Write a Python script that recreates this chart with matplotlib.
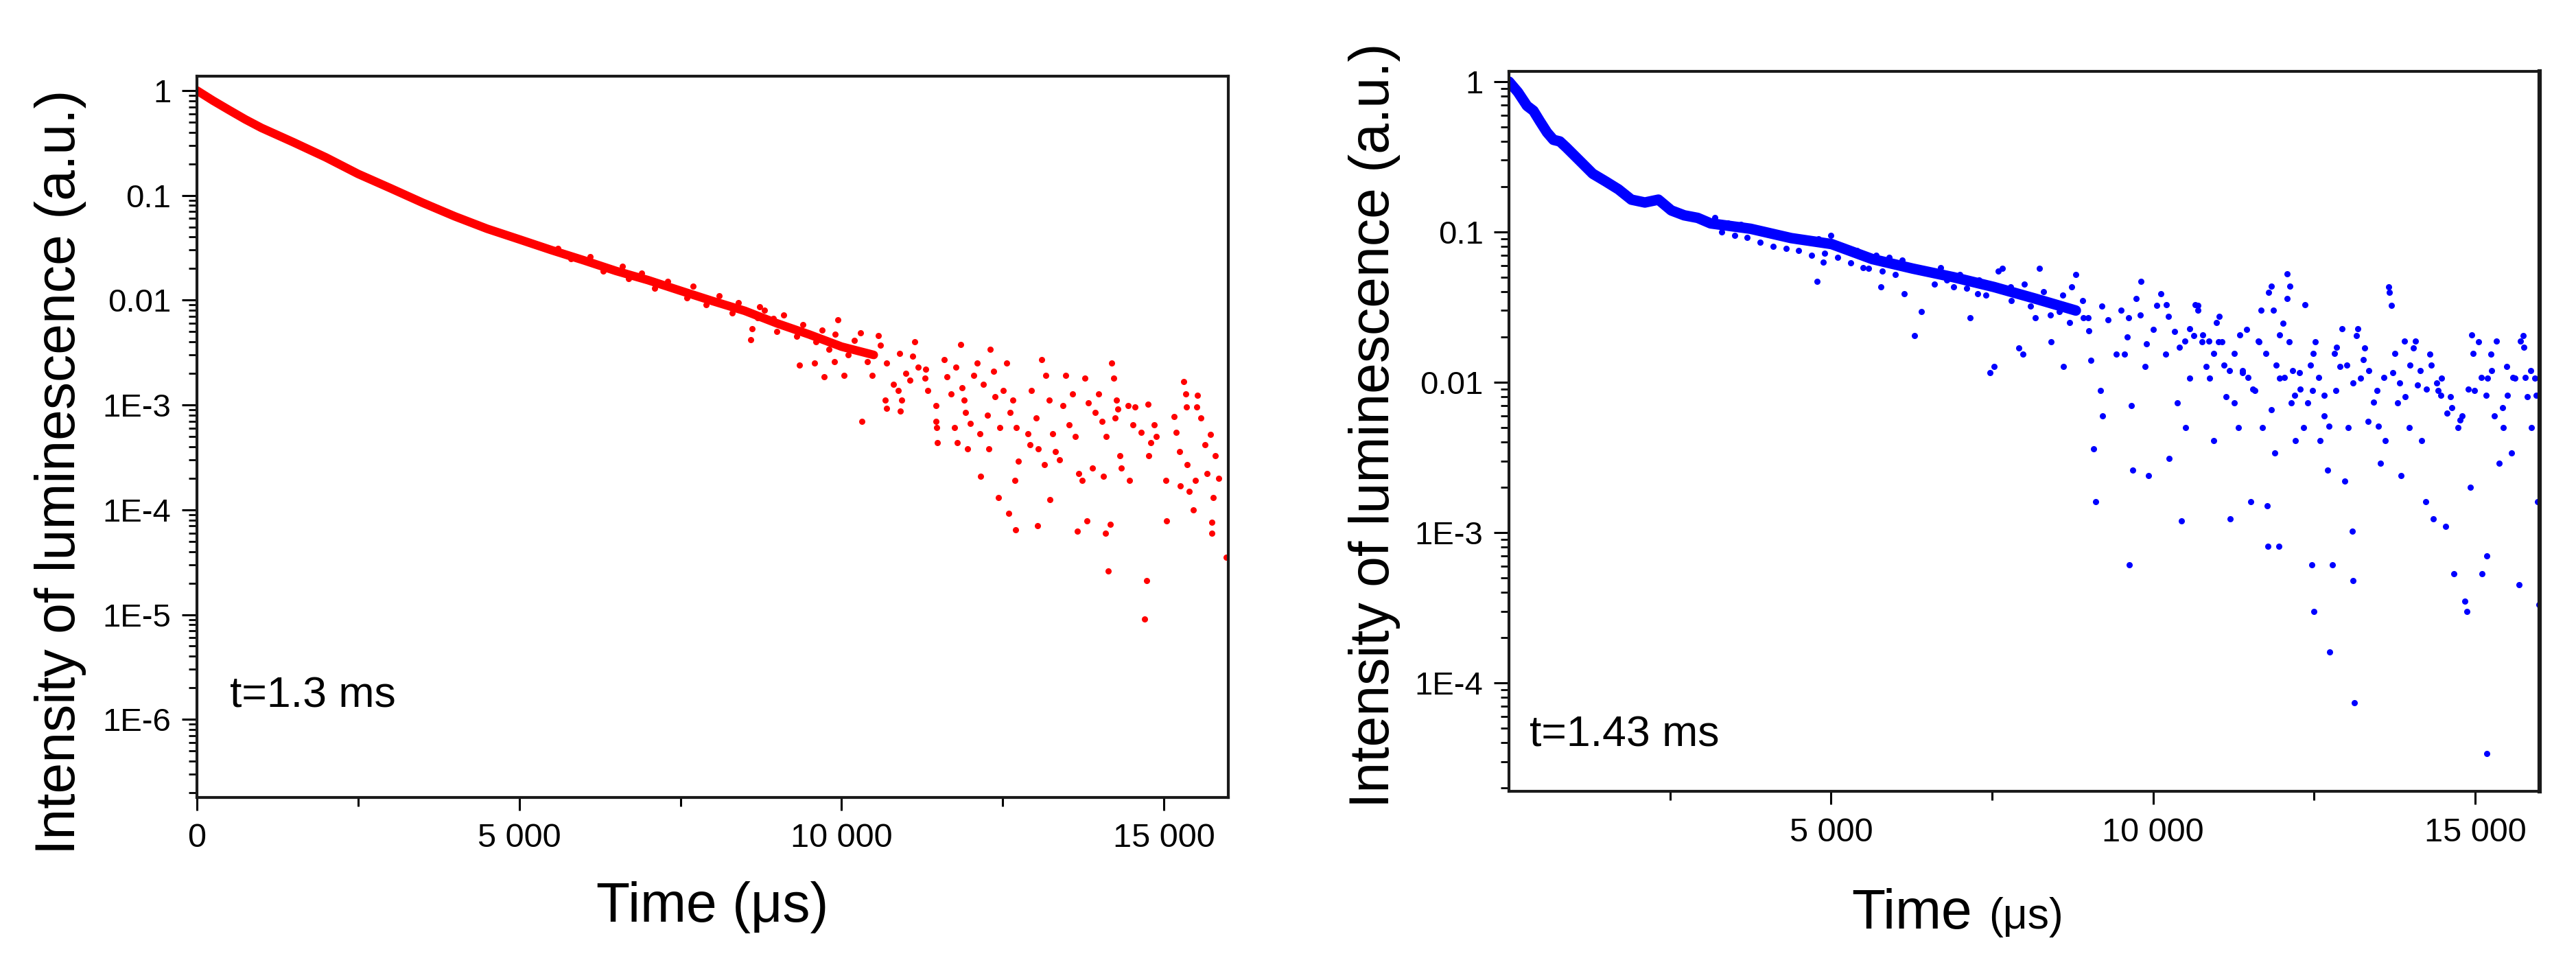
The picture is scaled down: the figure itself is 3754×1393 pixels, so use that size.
import numpy as np
import matplotlib
matplotlib.use("Agg")
import matplotlib.pyplot as plt
from matplotlib.ticker import LogLocator, FuncFormatter, NullFormatter, FixedLocator

plt.rcParams["font.family"] = ["Liberation Sans", "DejaVu Sans"]

# ---- left panel (red), t = 1.3 ms ----
red_band_t = [0, 250, 500, 750, 1000, 1500, 2000, 2500, 3000, 3500, 4000, 4500,
              5000, 5500, 6000, 6500, 7000, 7500, 8000, 8500, 9000, 9500, 10000,
              10500]
red_band_y = [1.0, 0.80, 0.65, 0.53, 0.44, 0.32, 0.23, 0.16, 0.117, 0.085, 0.063,
              0.048, 0.038, 0.030, 0.024, 0.019, 0.0155, 0.0123, 0.0098, 0.0079,
              0.0060, 0.0047, 0.0036, 0.0030]

red_dots_t = [5600, 5800, 6100, 6300, 6600, 6700, 6900, 7100, 7300, 7600, 7700, 7900,
              8100, 8300, 8400, 8700, 8800, 9000, 9100, 9300, 9400, 9600, 9700, 9800,
              9900, 10100, 10200, 10400, 10600, 10700, 10900, 11000, 11100, 11300,
              8590, 8610, 8730, 8940, 9350, 9580, 9730, 9890, 9940, 10040, 10290,
              10320, 10470, 10570, 10680, 10700, 10800, 10880, 10910, 10930, 11060,
              11130, 11190, 11310, 11340, 11460, 11470, 11480, 11490, 11590, 11640,
              11700, 11750, 11770, 11800, 11850, 11870, 11900, 11920, 11950, 12000,
              12050, 12100, 12150, 12160, 12200, 12260, 12280, 12310, 12360, 12380,
              12430, 12460, 12510, 12560, 12590, 12610, 12660, 12690, 12700, 12710,
              12740, 12890, 12920, 12940, 13020, 13040, 13050, 13100, 13150, 13170,
              13220, 13230, 13270, 13320, 13380, 13430, 13480, 13530, 13580, 13630,
              13660, 13680, 13730, 13780, 13810, 13830, 13890, 13940, 13990, 14040,
              14060, 14090, 14110, 14140, 14170, 14190, 14220, 14240, 14270, 14290,
              14320, 14340, 14450, 14470, 14520, 14550, 14650, 14700, 14730, 14750,
              14760, 14800, 14850, 14880, 15030, 15040, 15160, 15190, 15240, 15260,
              15310, 15340, 15350, 15360, 15390, 15460, 15490, 15510, 15520, 15570,
              15640, 15670, 15720, 15740, 15750, 15770, 15800, 15850, 15970]
red_dots_y = [0.031, 0.025, 0.026, 0.019, 0.021, 0.016, 0.018, 0.013, 0.015, 0.0105,
              0.0135, 0.0090, 0.0110, 0.0075, 0.0095, 0.0068, 0.0080, 0.0050, 0.0072,
              0.0045, 0.0058, 0.0040, 0.0052, 0.0034, 0.0047, 0.0030, 0.0041, 0.0026,
              0.0037, 0.0025, 0.0031, 0.0020, 0.0029, 0.0018,
              0.0042, 0.0053, 0.0087, 0.0067, 0.0024, 0.0025, 0.00185, 0.0026, 0.0065,
              0.0019, 0.0049, 0.00070, 0.0019, 0.0046, 0.00112, 0.00093, 0.00157,
              0.00137, 0.00088, 0.00112, 0.00173, 0.0040, 0.0023, 0.0022, 0.00137,
              0.00070, 0.00098, 0.00061, 0.00044, 0.0027, 0.00185, 0.00128, 0.00061,
              0.0023, 0.00044, 0.0038, 0.00147, 0.00112, 0.00085, 0.00038, 0.00067,
              0.0019, 0.0025, 0.00053, 0.00021, 0.00157, 0.00080, 0.00038, 0.0034,
              0.0021, 0.00120, 0.00013, 0.00061, 0.00137, 0.0025, 0.000092, 0.00085,
              0.00112, 0.00019, 0.000064, 0.00061, 0.00029, 0.00053, 0.00042, 0.00137,
              0.00075, 0.000071, 0.00038, 0.0027, 0.00027, 0.0019, 0.00112, 0.000125,
              0.00053, 0.00036, 0.00030, 0.00098, 0.0019, 0.00065, 0.00128, 0.00050,
              0.000062, 0.00022, 0.00019, 0.0018, 0.000078, 0.00105, 0.00025, 0.00085,
              0.00128, 0.00070, 0.00021, 0.000060, 0.00050, 0.000026, 0.000073, 0.0025,
              0.0018, 0.00075, 0.00112, 0.00091, 0.00033, 0.00025, 0.00098, 0.00019,
              0.00065, 0.00095, 0.00055, 0.0000091, 0.000021, 0.00101, 0.00033,
              0.00044, 0.00065, 0.00050, 0.00019, 0.000078, 0.00077, 0.00055, 0.00036,
              0.00017, 0.00168, 0.00128, 0.00095, 0.00027, 0.00015, 0.000099, 0.00019,
              0.00095, 0.00124, 0.00075, 0.00042, 0.00022, 0.00052, 0.000076, 0.000060,
              0.00013, 0.00033, 0.00020, 0.000035]

# ---- right panel (blue), t = 1.43 ms ----
blue_band_t = [0, 140, 280, 380, 480, 590, 690, 790, 890, 1090, 1300, 1500, 1700,
               1900, 2110, 2320, 2520, 2720, 2930, 3130, 3750, 4380, 5010, 5640,
               6270, 6900, 7530, 8170, 8800]
blue_band_y = [1.0, 0.85, 0.69, 0.64, 0.545, 0.46, 0.41, 0.40, 0.365, 0.30, 0.244,
               0.217, 0.192, 0.164, 0.157, 0.164, 0.139, 0.129, 0.124, 0.114, 0.105,
               0.091, 0.083, 0.066, 0.057, 0.050, 0.043, 0.036, 0.030]

blue_dots_t = [3200, 3300, 3400, 3500, 3600, 3700, 3800, 3900, 4000, 4100, 4200, 4300,
               4400, 4500, 4600, 4700, 4800, 4900, 5000, 5100, 5200, 5300, 5400, 5500,
               5700, 5800, 5900, 6000, 6100, 6200, 6500, 6600, 6700, 6800, 7000, 7100,
               7300, 7400, 7600, 7700, 7800, 8000, 8100, 8300, 8400, 8600, 8700, 8900,
               9000, 9200, 9300, 9500, 9600, 9800, 9900,
               4780, 4880, 5580, 5770, 6140, 6300, 6400, 6780, 6900, 7160, 7280, 7470,
               7530, 7660, 7790, 7910, 7980, 8170, 8230, 8420, 8540, 8610, 8730, 8800,
               8920, 8990, 9030, 9080, 9110, 9180, 9210, 9430, 9560, 9620, 9660, 9680,
               9740, 9810, 9870, 9930, 10000, 10060, 10120, 9630, 10190, 10250, 10380,
               10440, 10500, 10570, 10630, 10690, 10760, 10820, 10880, 10940, 11010,
               11070, 11130, 11200, 11260, 11320, 11390, 11450, 11510, 11580, 11640,
               11700, 11770, 11780, 11830, 11890, 11950, 11960, 12020, 12080, 12110,
               12140, 12210, 12270, 12330, 12400, 12460, 12470, 12490, 12520, 12590,
               12650, 12710, 12740, 12780, 12840, 12900, 12970, 13030, 13090, 13100,
               13120, 13160, 13220, 13280, 13340, 13470, 13530, 13600, 13660, 13700,
               13720, 13790, 13850, 13910, 13980, 14040, 14100, 14170, 14230, 14290,
               14350, 14420, 14480, 14540, 14610, 14670, 14730, 14800, 14840, 14870,
               14920, 14990, 15050, 15110, 15180, 15190, 15240, 15300, 15370, 15430,
               15490, 15560, 15620, 15680, 15740, 15810, 15870, 15930, 15970, 15990,
               15180,
               10200, 10240, 10330, 10410, 10490, 10570, 10650, 10700, 10770, 10860,
               10940, 10980, 11020, 11100, 11180, 11260, 11340, 11390, 11470, 11550,
               11630, 11670, 11750, 11790, 11830, 11870, 11910, 11960, 12040, 12080,
               12120, 12160, 12200, 12280, 12360, 12440, 12480, 12570, 12650, 12730,
               12810, 12850, 12930, 13010, 13100, 13180, 13260, 13350, 13420, 13500,
               13580, 13670, 13750, 13830, 13900, 13990, 14070, 14150, 14240, 14320,
               14400, 14470, 14560, 14640, 14760, 14890, 14950, 14970, 15090, 15170,
               15250, 15330, 15420, 15500, 15580, 15700, 15750, 15780, 15860, 15950]
blue_dots_y = [0.125, 0.10, 0.115, 0.095, 0.112, 0.092, 0.105, 0.085, 0.098, 0.080,
               0.095, 0.078, 0.092, 0.075, 0.088, 0.070, 0.090, 0.072, 0.095, 0.068,
               0.080, 0.062, 0.075, 0.058, 0.070, 0.055, 0.068, 0.052, 0.065, 0.060,
               0.055, 0.045, 0.058, 0.048, 0.052, 0.042, 0.048, 0.038, 0.055, 0.042,
               0.035, 0.045, 0.032, 0.040, 0.028, 0.038, 0.025, 0.035, 0.022, 0.032,
               0.026, 0.030, 0.020, 0.028, 0.018,
               0.047, 0.063, 0.057, 0.043, 0.039, 0.0204, 0.0296, 0.052, 0.043, 0.027,
               0.039, 0.0116, 0.0128, 0.057, 0.043, 0.0169, 0.0154, 0.027, 0.057,
               0.0185, 0.0296, 0.0128, 0.043, 0.052, 0.027, 0.027, 0.0140, 0.0036,
               0.0016, 0.0088, 0.0060, 0.0154, 0.0154, 0.027, 0.0070, 0.0026, 0.036,
               0.047, 0.0128, 0.0024, 0.0224, 0.0325, 0.039, 0.00061, 0.0154, 0.0031,
               0.0073, 0.0012, 0.0050, 0.0106, 0.0204, 0.0325, 0.0185, 0.0128, 0.0106,
               0.0041, 0.0185, 0.0185, 0.0080, 0.00123, 0.0073, 0.0050, 0.0116, 0.0224,
               0.0016, 0.0088, 0.0185, 0.0050, 0.0015, 0.00081, 0.0066, 0.0034, 0.00081,
               0.0106, 0.0246, 0.036, 0.0185, 0.0073, 0.0041, 0.0116, 0.0050, 0.0073,
               0.00061, 0.0088, 0.00030, 0.0185, 0.0041, 0.0060, 0.0026, 0.00016,
               0.00061, 0.0088, 0.0128, 0.0022, 0.0050, 0.00102, 0.00048, 0.000074,
               0.0204, 0.0106, 0.0169, 0.0055, 0.0088, 0.0029, 0.0041, 0.043, 0.0325,
               0.0116, 0.0073, 0.0024, 0.0080, 0.0050, 0.0169, 0.0096, 0.0041, 0.0016,
               0.0154, 0.00123, 0.0088, 0.0106, 0.0011, 0.0080, 0.00053, 0.0050, 0.0060,
               0.00035, 0.00030, 0.0020, 0.0088, 0.0185, 0.00053, 0.00070, 0.0106,
               0.0154, 0.0060, 0.0029, 0.0050, 0.0128, 0.0034, 0.0106, 0.00045, 0.0204,
               0.0080, 0.0050, 0.0106, 0.0016, 0.00033,
               0.000034,
               0.0329, 0.0273, 0.0217, 0.0171, 0.0188, 0.0227, 0.0329, 0.030, 0.0207,
               0.0188, 0.0156, 0.025, 0.0273, 0.0130, 0.0119, 0.0156, 0.0207, 0.0119,
               0.0108, 0.0090, 0.0188, 0.030, 0.0156, 0.0396, 0.0434, 0.030, 0.0130,
               0.0207, 0.0108, 0.0524, 0.0434, 0.0119, 0.0082, 0.0090, 0.0329, 0.0130,
               0.0156, 0.0108, 0.0082, 0.0051, 0.0156, 0.0171, 0.0227, 0.0130, 0.0099,
               0.0227, 0.0142, 0.0119, 0.0074, 0.0051, 0.0108, 0.0396, 0.0156, 0.0099,
               0.0188, 0.0130, 0.0188, 0.0119, 0.0090, 0.0130, 0.0099, 0.0082, 0.0062,
               0.0068, 0.0056, 0.0090, 0.0207, 0.0156, 0.0108, 0.0082, 0.0119, 0.0188,
               0.0068, 0.0082, 0.0108, 0.0188, 0.0171, 0.0108, 0.0119, 0.0082]

x_major = [0, 5000, 10000, 15000]
x_minor = [2500, 7500, 12500]


def y_label(v, pos):
    e = int(round(np.log10(v)))
    if e >= 0:
        return "1"
    if e >= -2:
        return f"{v:.{-e}f}"
    return f"1E{e}"


def x_label(v, pos):
    return f"{int(v):,}".replace(",", " ")


def style_axes(ax, xticks, ylim):
    ax.set_yscale("log")
    ax.set_xlim(0, 16000)
    ax.set_ylim(*ylim)
    ax.yaxis.set_major_locator(LogLocator(base=10, numticks=20))
    ax.yaxis.set_minor_locator(LogLocator(base=10, subs=np.arange(2, 10), numticks=100))
    ax.yaxis.set_major_formatter(FuncFormatter(y_label))
    ax.yaxis.set_minor_formatter(NullFormatter())
    ax.xaxis.set_major_locator(FixedLocator(xticks))
    ax.xaxis.set_minor_locator(FixedLocator(x_minor))
    ax.xaxis.set_major_formatter(FuncFormatter(x_label))
    ax.tick_params(axis="y", which="major", direction="out", length=16, width=2.2,
                   labelsize=34, pad=11, right=False)
    ax.tick_params(axis="y", which="minor", direction="out", length=9, width=2,
                   right=False)
    ax.tick_params(axis="x", which="major", direction="out", length=14, width=2.2,
                   labelsize=35, pad=13, top=False)
    ax.tick_params(axis="x", which="minor", direction="out", length=9, width=2.2,
                   top=False)
    for sp in ax.spines.values():
        sp.set_linewidth(3)
        sp.set_color("#1a1a1a")


fig = plt.figure(figsize=(37.54, 13.93), dpi=100)

ax1 = fig.add_axes([0.07645, 0.16583, 0.40037, 0.7545])
ax1.plot(red_band_t, red_band_y, color="red", lw=9, solid_capstyle="round")
ax1.plot(red_dots_t, red_dots_y, "o", color="red", ms=6.5, mew=0, ls="none")
style_axes(ax1, x_major, (1.8e-7, 1.37))
ax1.text(0.032, 0.125, "t=1.3 ms", transform=ax1.transAxes, fontsize=45,
         va="baseline")

ax2 = fig.add_axes([0.58578, 0.17229, 0.40011, 0.75305])
ax2.plot(blue_band_t, blue_band_y, color="blue", lw=11, solid_capstyle="round")
ax2.plot(blue_dots_t, blue_dots_y, "o", color="blue", ms=6.5, mew=0, ls="none")
style_axes(ax2, x_major[1:], (1.9e-5, 1.17))
ax2.spines["right"].set_linewidth(4.5)
ax2.text(0.02, 0.062, "t=1.43 ms", transform=ax2.transAxes, fontsize=45,
         va="baseline")

# axis titles
fig.text(88 / 3754, 1 - 688 / 1393, "Intensity of luminescence (a.u.)", rotation=90,
         ha="center", va="center", fontsize=58)
fig.text(2003 / 3754, 1 - 620 / 1393, "Intensity of luminescence (a.u.)", rotation=90,
         ha="center", va="center", fontsize=58)
fig.text(1038 / 3754, 1 - 1343 / 1393, "Time (\u03bcs)", ha="center", va="baseline",
         fontsize=58)
fig.text(2874 / 3754, 1 - 1353 / 1393, "Time", ha="right", va="baseline", fontsize=58)
fig.text(2898 / 3754, 1 - 1353 / 1393, "(\u03bcs)", ha="left", va="baseline",
         fontsize=45)

fig.savefig("out.png", dpi=100)
